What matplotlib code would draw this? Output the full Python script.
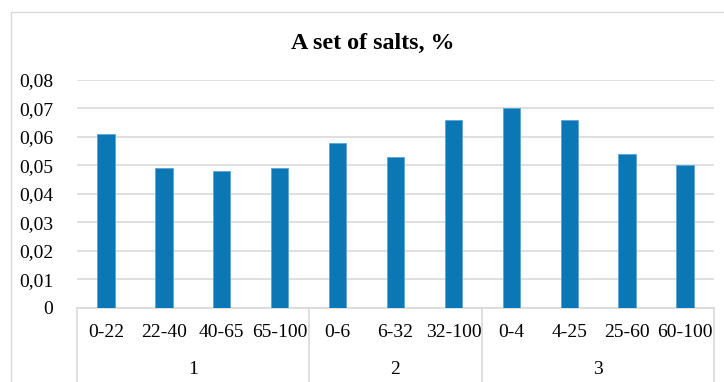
import matplotlib
matplotlib.use("Agg")
import matplotlib.pyplot as plt
from matplotlib.patches import Rectangle
from matplotlib.ticker import FuncFormatter
import matplotlib.transforms as mtransforms

plt.rcParams['font.family'] = ['Liberation Serif', 'DejaVu Serif']

depths = ["0-22", "22-40", "40-65", "65-100", "0-6", "6-32", "32-100",
          "0-4", "4-25", "25-60", "60-100"]
groups = ["1", "2", "3"]
group_sizes = [4, 3, 4]
salts = [0.061, 0.049, 0.048, 0.049, 0.058, 0.053, 0.066,
         0.070, 0.066, 0.054, 0.050]
title = "A set of salts, %"

W, H = 724, 382
fig = plt.figure(figsize=(W / 100, H / 100), dpi=100)

# outer chart border
fig.patches.append(Rectangle((11 / W, -0.1), 2.0, (H - 12) / H + 0.1,
                             transform=fig.transFigure, fill=False,
                             edgecolor="#D9D9D9", linewidth=1.0))

left, right, top, bottom = 77, 714, 80, 307.7
ax = fig.add_axes([left / W, (H - bottom) / H, (right - left) / W, (bottom - top) / H])

x = list(range(len(depths)))
ax.bar(x, salts, width=0.30, color="#0B77B5", edgecolor="#5AA6D6",
       linewidth=0.6, zorder=3)

ax.set_xlim(-0.5, len(depths) - 0.5)
ax.set_ylim(0, 0.08)
ax.set_yticks([i / 100 for i in range(9)])
ax.yaxis.set_major_formatter(FuncFormatter(
    lambda v, p: "0" if abs(v) < 1e-12 else f"{v:.2f}".replace(".", ",")))
ax.grid(axis="y", color="#D9D9D9", linewidth=1.2, zorder=0)
ax.tick_params(axis="y", length=0, pad=17, labelsize=14)

for s in ["top", "right", "left"]:
    ax.spines[s].set_visible(False)
ax.spines["bottom"].set_color("#D9D9D9")
ax.spines["bottom"].set_linewidth(1.2)

ax.set_xticks(x)
ax.set_xticklabels(depths, fontsize=14)
ax.tick_params(axis="x", length=0, pad=12)

# second category level: group labels and separators
trans = mtransforms.blended_transform_factory(ax.transData, ax.transAxes)
edge = -0.5
ax.plot([edge, edge], [0, -0.5], transform=trans, color="#D9D9D9",
        linewidth=1.2, clip_on=False)
for g, n in zip(groups, group_sizes):
    center = edge + n / 2
    ax.text(center, -0.27, g, transform=trans, ha="center", va="center",
            fontsize=14)
    edge += n
    ax.plot([edge, edge], [0, -0.5], transform=trans, color="#D9D9D9",
            linewidth=1.2, clip_on=False)

fig.text(373 / W, 1 - 43 / H, title, ha="center", va="center",
         fontsize=17.3, fontweight="bold")

fig.savefig("out.png", dpi=100, facecolor="white")
